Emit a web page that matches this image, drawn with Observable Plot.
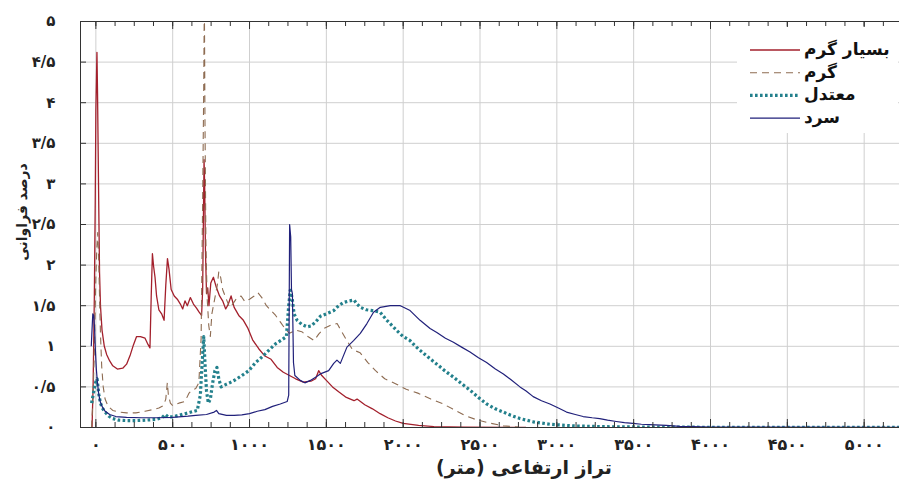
<!DOCTYPE html>
<html><head><meta charset="utf-8">
<script src="https://cdn.jsdelivr.net/npm/d3@7"></script>
<script src="https://cdn.jsdelivr.net/npm/@observablehq/plot@0.6"></script>
<style>body{margin:0;background:#fff}#chart{width:899px;height:479px}</style>
</head><body><div id="chart"></div>
<script>
// ---- data (elevation m, frequency %) ----
const veryWarm = [[-25,0],[-18,0.5],[-10,1.6],[-4,2.8],[0,3.9],[4,4.3],[7,4.62],[11,4.1],[15,3.4],[19,2.7],[24,1.9],[30,1.5],[40,1.2],[55,1.0],[70,0.9],[90,0.82],[110,0.76],[140,0.72],[175,0.73],[200,0.78],[225,0.9],[245,1.02],[265,1.12],[290,1.12],[320,1.1],[340,1.02],[352,0.98],[360,1.6],[368,2.14],[376,1.98],[385,1.85],[395,1.62],[410,1.45],[428,1.4],[444,1.32],[455,1.75],[466,2.08],[476,1.95],[490,1.7],[510,1.62],[530,1.58],[550,1.52],[565,1.46],[580,1.56],[595,1.5],[615,1.6],[635,1.52],[655,1.47],[672,1.42],[688,1.38],[695,1.7],[700,2.6],[704,3.3],[708,3.0],[713,2.2],[720,1.65],[728,1.72],[736,1.5],[748,1.78],[765,1.85],[785,1.72],[805,1.62],[825,1.56],[845,1.46],[862,1.52],[880,1.62],[900,1.48],[930,1.38],[960,1.32],[990,1.22],[1020,1.08],[1060,0.97],[1100,0.88],[1140,0.84],[1180,0.74],[1220,0.68],[1260,0.64],[1300,0.6],[1350,0.56],[1400,0.57],[1430,0.6],[1450,0.7],[1470,0.64],[1500,0.58],[1540,0.5],[1580,0.44],[1630,0.37],[1680,0.33],[1700,0.35],[1750,0.28],[1800,0.23],[1850,0.17],[1900,0.12],[1950,0.08],[2000,0.05],[2100,0.025],[2200,0.012],[2400,0.005],[2800,0]];
const warm = [[-28,0],[-20,0.3],[-12,0.8],[-5,1.4],[0,1.85],[6,2.2],[12,2.4],[18,2.1],[24,1.6],[30,1.15],[38,0.75],[48,0.5],[60,0.35],[80,0.26],[110,0.21],[150,0.19],[200,0.18],[260,0.18],[320,0.2],[370,0.22],[410,0.24],[440,0.27],[455,0.35],[465,0.55],[472,0.4],[485,0.3],[500,0.27],[540,0.3],[580,0.32],[605,0.42],[625,0.46],[650,0.48],[670,0.55],[685,1.1],[695,2.8],[702,4.2],[706,5.3],[710,3.8],[716,2.3],[724,1.6],[735,1.25],[745,1.12],[755,1.4],[770,1.55],[790,1.75],[800,1.92],[812,1.85],[825,1.7],[845,1.6],[870,1.48],[890,1.52],[920,1.6],[945,1.62],[970,1.55],[1000,1.58],[1030,1.62],[1055,1.66],[1080,1.6],[1110,1.5],[1140,1.44],[1170,1.38],[1200,1.3],[1230,1.22],[1260,1.16],[1300,1.2],[1340,1.18],[1380,1.12],[1420,1.07],[1450,1.15],[1485,1.22],[1530,1.26],[1570,1.28],[1600,1.18],[1630,1.08],[1670,0.96],[1720,0.92],[1770,0.8],[1820,0.7],[1880,0.6],[1950,0.54],[2020,0.47],[2100,0.42],[2180,0.35],[2250,0.3],[2320,0.23],[2400,0.15],[2470,0.1],[2550,0.06],[2650,0.02],[2750,0.005]];
const moderate = [[-28,0.3],[-18,0.4],[-8,0.5],[2,0.58],[8,0.6],[14,0.5],[20,0.4],[30,0.3],[42,0.24],[60,0.19],[85,0.14],[110,0.11],[150,0.09],[200,0.085],[260,0.085],[320,0.09],[390,0.1],[430,0.12],[452,0.16],[470,0.13],[500,0.13],[540,0.15],[580,0.17],[620,0.19],[660,0.21],[680,0.4],[692,0.8],[702,1.12],[710,0.8],[720,0.45],[732,0.3],[745,0.35],[760,0.55],[775,0.7],[788,0.74],[800,0.6],[815,0.5],[835,0.52],[870,0.55],[910,0.59],[950,0.64],[995,0.7],[1040,0.8],[1082,0.87],[1125,0.95],[1169,1.03],[1210,1.08],[1240,1.12],[1255,1.5],[1265,1.69],[1277,1.6],[1290,1.4],[1310,1.32],[1340,1.27],[1375,1.24],[1400,1.25],[1430,1.3],[1461,1.37],[1500,1.4],[1548,1.44],[1580,1.5],[1612,1.54],[1650,1.56],[1680,1.57],[1700,1.52],[1721,1.48],[1760,1.45],[1800,1.44],[1850,1.42],[1894,1.32],[1930,1.25],[1960,1.19],[2000,1.12],[2045,1.07],[2080,1.0],[2110,0.95],[2160,0.87],[2219,0.78],[2270,0.7],[2327,0.62],[2380,0.54],[2435,0.46],[2490,0.37],[2543,0.29],[2600,0.23],[2652,0.19],[2700,0.15],[2760,0.11],[2846,0.07],[2955,0.04],[3100,0.02],[3300,0.01],[3600,0.005],[4000,0.003],[5230,0.002]];
const cold = [[-30,1.0],[-25,1.2],[-20,1.4],[-14,1.38],[-8,1.2],[-3,0.95],[3,0.72],[10,0.56],[18,0.42],[28,0.32],[40,0.26],[60,0.2],[90,0.16],[130,0.135],[200,0.125],[300,0.12],[400,0.12],[500,0.125],[600,0.14],[650,0.15],[720,0.16],[770,0.19],[785,0.21],[800,0.17],[850,0.15],[900,0.15],[950,0.155],[1000,0.17],[1050,0.2],[1100,0.22],[1150,0.26],[1200,0.29],[1245,0.32],[1255,0.4],[1261,2.5],[1268,2.35],[1273,1.7],[1279,1.65],[1286,0.8],[1295,0.64],[1330,0.58],[1360,0.55],[1396,0.58],[1430,0.62],[1461,0.66],[1515,0.7],[1548,0.79],[1569,0.83],[1591,0.79],[1634,0.99],[1677,1.07],[1721,1.16],[1764,1.28],[1807,1.42],[1851,1.48],[1916,1.5],[1981,1.5],[2002,1.48],[2045,1.44],[2110,1.32],[2175,1.22],[2219,1.17],[2275,1.1],[2327,1.05],[2380,0.99],[2435,0.93],[2490,0.86],[2543,0.8],[2600,0.72],[2652,0.66],[2700,0.59],[2760,0.5],[2800,0.45],[2846,0.38],[2900,0.33],[2955,0.29],[3010,0.24],[3063,0.19],[3120,0.16],[3171,0.135],[3230,0.12],[3279,0.11],[3330,0.09],[3387,0.074],[3440,0.06],[3495,0.05],[3550,0.04],[3604,0.035],[3712,0.025],[3800,0.015],[3885,0.01],[4000,0.006],[4300,0.004],[5230,0.003]];

const seriesNames = ["بسیار گرم", "گرم", "معتدل", "سرد"];
const xTickValues = [0, 500, 1000, 1500, 2000, 2500, 3000, 3500, 4000, 4500, 5000];
const xTickLabels = ["۰", "۵۰۰", "۱۰۰۰", "۱۵۰۰", "۲۰۰۰", "۲۵۰۰", "۳۰۰۰", "۳۵۰۰", "۴۰۰۰", "۴۵۰۰", "۵۰۰۰"];
const yTickValues = [0, 0.5, 1, 1.5, 2, 2.5, 3, 3.5, 4, 4.5, 5];
const yTickLabels = ["۰", "۰/۵", "۱", "۱/۵", "۲", "۲/۵", "۳", "۳/۵", "۴", "۴/۵", "۵"];
const xMinorTicks = d3.range(0, 5230, 125);
const xLabel = "تراز ارتفاعی (متر)";
const yLabel = "درصد فراوانی";

// ---- styles ----
const colors = ["#a3202c", "#8e6c52", "#23808c", "#20207a"];
const dashes = [null, "7,5", "2.6,2.4", null];
const widths = [1.3, 1.1, 3.2, 1.2];
const W = 899, H = 479, mL = 80, mR = 0, mT = 21, mB = 52;
const pw = W - mL - mR, ph = H - mT - mB;
const xMap = new Map(xTickValues.map((v, i) => [v, xTickLabels[i]]));
const yMap = new Map(yTickValues.map((v, i) => [v, yTickLabels[i]]));
const X = d => d[0], Y = d => d[1];
const series = [veryWarm, warm, moderate, cold];

const plot = Plot.plot({
  width: W, height: H,
  marginLeft: mL, marginRight: mR, marginTop: mT, marginBottom: mB,
  style: {fontFamily: "DejaVu Sans", fontSize: "15px", fontWeight: "bold", color: "#222", background: "#fff"},
  x: {domain: [-100, 5230]},
  y: {domain: [0, 5]},
  marks: [
    Plot.gridX(xTickValues, {stroke: "#cfcfcf", strokeOpacity: 1}),
    Plot.gridY(yTickValues, {stroke: "#cfcfcf", strokeOpacity: 1}),
    Plot.axisX(xTickValues, {tickSize: 0, tickPadding: 11, fontSize: 16, tickFormat: d => xMap.get(d), label: null}),
    Plot.axisY(yTickValues, {tickSize: 0, tickPadding: 25, fontSize: 15, tickFormat: d => yMap.get(d), label: null}),
    ...series.map((s, i) => Plot.line(s, {x: X, y: Y, stroke: colors[i], strokeWidth: widths[i],
      strokeDasharray: dashes[i] ?? undefined, strokeLinecap: "butt", strokeLinejoin: "round", clip: true})),
    // inward ticks
    Plot.tickX(xMinorTicks, {x: d => d, insetTop: ph - 5, stroke: "#333"}),
    Plot.tickX(xMinorTicks, {x: d => d, insetBottom: ph - 5, stroke: "#333"}),
    Plot.tickX(xTickValues, {x: d => d, insetTop: ph - 8, stroke: "#333"}),
    Plot.tickX(xTickValues, {x: d => d, insetBottom: ph - 8, stroke: "#333"}),
    Plot.tickY(yTickValues, {y: d => d, insetRight: pw - 6, stroke: "#333"}),
    // frame (left, bottom, top)
    Plot.ruleX([-100], {stroke: "#333"}),
    Plot.ruleY([0], {stroke: "#333"}),
    Plot.ruleY([5], {stroke: "#333"})
  ]
});
document.getElementById("chart").appendChild(plot);

// ---- axis titles & legend ----
const svg = d3.select(plot);
svg.append("text").attr("x", 524).attr("y", 474).attr("text-anchor", "middle")
  .attr("direction", "rtl").style("direction", "rtl")
  .attr("font-family", "DejaVu Sans").attr("font-weight", "bold").attr("font-size", 19).attr("fill", "#222")
  .text(xLabel);
svg.append("text").attr("transform", "translate(27,212) rotate(-90)").attr("text-anchor", "middle")
  .attr("font-family", "DejaVu Sans").attr("font-weight", "bold").attr("font-size", 14).attr("fill", "#222")
  .text(yLabel);

const lg = svg.append("g");
lg.append("rect").attr("x", 737).attr("y", 27).attr("width", 161).attr("height", 106).attr("fill", "#fff");
seriesNames.forEach((name, i) => {
  const y = 50 + i * 22.7;
  lg.append("line").attr("x1", 750).attr("x2", 800).attr("y1", y).attr("y2", y)
    .attr("stroke", colors[i]).attr("stroke-width", widths[i])
    .attr("stroke-dasharray", dashes[i]);
  const t = lg.append("text").attr("y", y + 5).attr("text-anchor", "middle")
    .attr("font-family", "DejaVu Sans").attr("font-weight", "bold").attr("font-size", 17).attr("fill", "#111")
    .text(name);
  const len = t.node().getComputedTextLength();
  t.attr("x", 804 + len / 2);
});
</script>
</body></html>
